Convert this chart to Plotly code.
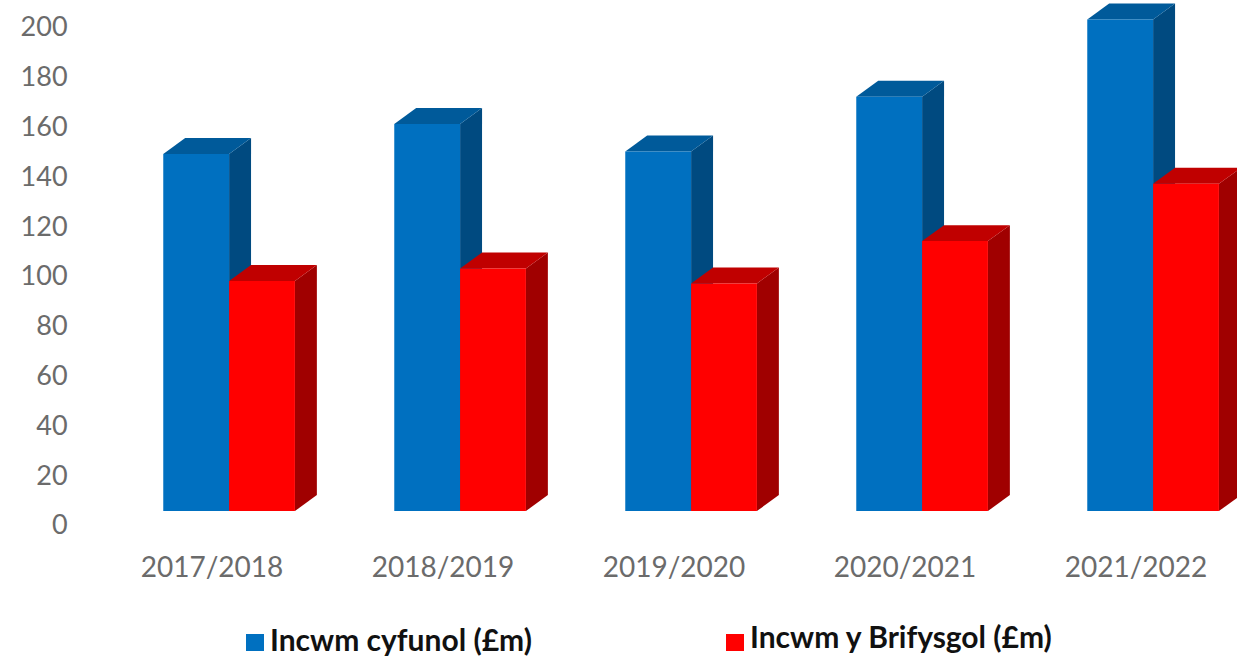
"""
Incwm cyfunol / Incwm y Brifysgol: faux 3D columns
"""
import plotly.graph_objects as go

years = ['2017/2018', '2018/2019', '2019/2020', '2020/2021', '2021/2022']
incwm_cyfunol = [149, 161, 150, 172, 203]
incwm_brifysgol = [98, 103, 97, 114, 137]
y_ticks = [0, 20, 40, 60, 80, 100, 120, 140, 160, 180, 200]

# look of the columns, in axis units
BASE = 5.6
DEPTH_X = 0.095
DEPTH_Y = 6.4
WIDTH = 0.285
SHIFT = 0.074
GREY = '#6b6b6b'
LEFT = 74
PLOT_W = 1237 - LEFT
PLOT_H = 542

xs = list(range(len(years)))
fig = go.Figure()
fig.add_trace(go.Bar(x=xs, y=[v - BASE for v in incwm_cyfunol], base=BASE, width=WIDTH,
                     offset=SHIFT - WIDTH, marker=dict(color='#0070C0', line_width=0),
                     name='Incwm cyfunol (£m)'))
fig.add_trace(go.Bar(x=xs, y=[v - BASE for v in incwm_brifysgol], base=BASE, width=WIDTH,
                     offset=SHIFT, marker=dict(color='#FF0000', line_width=0),
                     name='Incwm y Brifysgol (£m)'))


def add_depth(left, top, top_col, side_col):
    # side and top faces sit under the traces, so the next bar hides them
    right = left + WIDTH
    side = (f'M{right},{BASE} L{right + DEPTH_X},{BASE + DEPTH_Y} '
            f'L{right + DEPTH_X},{top + DEPTH_Y} L{right},{top} Z')
    roof = (f'M{left},{top} L{left + DEPTH_X},{top + DEPTH_Y} '
            f'L{right + DEPTH_X},{top + DEPTH_Y} L{right},{top} Z')
    fig.add_shape(type='path', path=side, fillcolor=side_col, line_width=0, layer='below')
    fig.add_shape(type='path', path=roof, fillcolor=top_col, line_width=0, layer='below')


for i in xs:
    add_depth(i + SHIFT - WIDTH, incwm_cyfunol[i], '#005A9A', '#004A80')
    add_depth(i + SHIFT, incwm_brifysgol[i], '#C00000', '#A00000')

# legend sits off-line in the source, so it is placed by hand
legend_items = [('Incwm cyfunol (£m)', '#0070C0', 246, 639),
                ('Incwm y Brifysgol (£m)', '#FF0000', 726, 636)]
for label, col, px_x, px_y in legend_items:
    fig.add_shape(type='rect', xref='paper', yref='paper', line_width=0, fillcolor=col,
                  x0=(px_x - LEFT) / PLOT_W, x1=(px_x + 18 - LEFT) / PLOT_W,
                  y0=(PLOT_H - 651) / PLOT_H, y1=(PLOT_H - 634) / PLOT_H)
    fig.add_annotation(text=f'<b>{label}</b>', xref='paper', yref='paper', showarrow=False,
                       x=(px_x + 22 - LEFT) / PLOT_W, y=(PLOT_H - px_y) / PLOT_H, xanchor='left',
                       yanchor='middle', font=dict(family='Lato', size=30, color='#111111'))

fig.update_layout(
    width=1237, height=656, autosize=False, showlegend=False, barmode='overlay',
    margin=dict(l=LEFT, r=0, t=0, b=656 - PLOT_H),
    paper_bgcolor='white', plot_bgcolor='white',
    font=dict(family='Lato', size=27, color=GREY),
    xaxis=dict(range=[(LEFT - 212) / 231, (1237 - 212) / 231], tickvals=xs, ticktext=years,
               showgrid=False, zeroline=False, showline=False, ticks='outside', ticklen=0,
               tickcolor='white', tickfont_size=28),
    yaxis=dict(range=[-6.83, 210.8], tickvals=y_ticks, showgrid=False, zeroline=False,
               showline=False, ticks='outside', ticklen=0, tickcolor='white'),
)
fig.write_html("out.html", config={'displayModeBar': False},
               post_script="document.body.style.margin = '0';")
